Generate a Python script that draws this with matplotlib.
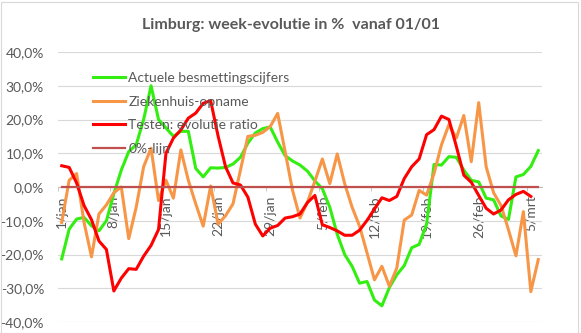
import numpy as np
import matplotlib
matplotlib.use("Agg")
import matplotlib.pyplot as plt
from matplotlib.ticker import FuncFormatter
from matplotlib.patches import Rectangle

plt.rcParams['font.family'] = ['Lato', 'DejaVu Sans']

# one point per day, 1/jan .. 6/mrt
days = np.arange(65)
tick_pos = [0, 7, 14, 21, 28, 35, 42, 49, 56, 63]
tick_labels = ['1/jan', '8/jan', '15/jan', '22/jan', '29/jan',
               '5/feb', '12/feb', '19/feb', '26/feb', '5/mrt']

# week-evolutie in %
besmettingen = [-21.3, -12.5, -9.5, -9.0, -11.5, -13.0, -10.0, -2.0, 5.0, 10.5,
                12.5, 20.0, 30.0, 20.0, 17.5, 15.0, 16.5, 16.5, 5.5, 3.0,
                5.7, 5.6, 5.8, 6.8, 8.8, 13.0, 16.0, 17.3, 17.8, 13.3,
                9.3, 7.7, 6.5, 4.7, 1.8, -0.5, -6.0, -14.0, -20.0, -23.5,
                -28.5, -28.0, -33.5, -35.2, -29.8, -26.0, -23.3, -18.0, -17.0, -11.0,
                6.7, 6.5, 9.0, 8.8, 5.0, 2.0, 1.5, -3.3, -3.8, -8.6,
                -9.6, 3.0, 3.7, 6.1, 10.8]

ziekenhuis = [-10.5, 2.0, 4.0, -10.5, -20.7, -8.0, -5.3, -1.7, 0.0, -15.3,
              -6.0, 6.0, 11.5, -4.0, 2.0, -3.3, 11.0, 2.0, -5.0, -11.6,
              0.3, -11.0, -8.5, -5.0, 5.0, 15.0, 15.3, 16.2, 17.9, 21.8,
              10.5, -1.0, -9.2, -4.5, 1.7, 8.3, 1.0, 9.8, 1.0, -6.0,
              -11.6, -19.5, -27.5, -23.5, -29.4, -24.0, -9.8, -8.3, -1.0, -2.4,
              4.0, 12.5, 18.5, 14.5, 21.2, 7.5, 25.0, 6.0, -1.7, -5.5,
              -12.7, -20.4, -7.3, -31.0, -21.5]

testen = [6.3, 5.8, 1.2, -5.5, -9.7, -16.0, -18.5, -30.8, -27.0, -24.2,
          -24.4, -20.5, -17.3, -12.6, 10.0, 14.5, 16.9, 20.4, 21.9, 24.8,
          25.6, 15.1, 6.0, 1.2, 0.6, -3.0, -11.0, -14.5, -12.2, -11.4,
          -9.2, -8.8, -8.0, -4.6, -2.5, -11.2, -12.0, -13.0, -14.3, -14.3,
          -12.8, -9.9, -6.5, -3.2, -4.0, -2.8, 2.5, 6.0, 8.3, 15.5,
          17.0, 21.0, 20.0, 12.0, 3.5, 1.4, -2.5, -6.3, -8.0, -6.8,
          -3.8, -2.2, -1.3, -2.8]

nul_lijn = [0.0] * 65

grey = '#595959'

fig = plt.figure(figsize=(5.81, 3.33), dpi=100)
ax = fig.add_axes([58 / 581, 11 / 333, 484 / 581, 270 / 333])

ax.plot(days, besmettingen, color='#33EE11', lw=2.2, label='Actuele besmettingscijfers', zorder=3)
ax.plot(days, ziekenhuis, color='#F79646', lw=2.2, label='Ziekenhuis-opname', zorder=4)
ax.plot(days[:len(testen)], testen, color='#FF0000', lw=2.2, label='Testen: evolutie ratio', zorder=5)
ax.plot(days, nul_lijn, color='#C0504D', lw=1.6, label='0%-lijn', zorder=6)

ax.set_xlim(-0.5, 64.5)
ax.set_ylim(-40, 40)
ax.set_yticks(np.arange(-40, 41, 10))
ax.yaxis.set_major_formatter(FuncFormatter(lambda v, p: f"{v:.1f}%".replace('.', ',')))
ax.yaxis.grid(True, color='#D9D9D9', lw=0.8)
ax.set_axisbelow(True)

for s in ['left', 'right', 'top']:
    ax.spines[s].set_visible(False)
ax.spines['bottom'].set_position(('data', 0))
ax.spines['bottom'].set_color('#BFBFBF')

ax.set_xticks(tick_pos)
ax.set_xticklabels(tick_labels, rotation=90)
ax.set_xticks([p - 0.5 for p in tick_pos], minor=True)
ax.tick_params(axis='x', which='major', length=0, pad=6, labelsize=10, labelcolor=grey)
ax.tick_params(axis='x', which='minor', length=3, color='#BFBFBF')
ax.tick_params(axis='y', length=0, pad=10, labelsize=10, labelcolor=grey)

fig.text(291 / 581, 1 - 25 / 333, 'Limburg: week-evolutie in %  vanaf 01/01',
         ha='center', va='center', fontsize=11.5, fontweight='bold', color=grey)

ax.legend(loc='upper left', bbox_to_anchor=(93 / 581, 1 - 72 / 333),
          bbox_transform=fig.transFigure, frameon=False, borderpad=0,
          borderaxespad=0, handlelength=2.3, handletextpad=0.25,
          labelspacing=0.83, fontsize=10, labelcolor=grey)

fig.patches.append(Rectangle((0.5 / 581, 0.5 / 333), 577 / 581, 331 / 333,
                             transform=fig.transFigure, fill=False,
                             edgecolor='#D9D9D9', lw=0.8))

fig.savefig('out.png', dpi=100)
